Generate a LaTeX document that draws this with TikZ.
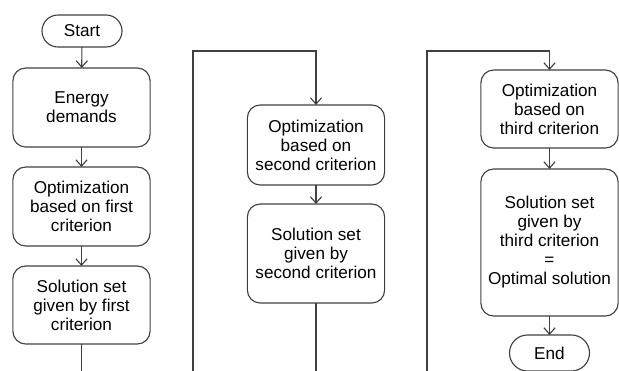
\documentclass[tikz,border=0pt]{standalone}
\usepackage{fontspec}
\setmainfont{Liberation Sans}
\usetikzlibrary{arrows.meta}
\begin{document}
\begin{tikzpicture}[x=0.025cm,y=-0.025cm,inner sep=0pt,outer sep=0pt,line width=0.8pt,color=black!75,
>={Straight Barb[length=1.6mm,width=2.8mm]},
procblock/.style={draw,rectangle,rounded corners=0.32cm,minimum width=3.43cm,align=center,text=black,font=\fontsize{12.2pt}{13.5pt}\selectfont},
termblock/.style={draw,rectangle,rounded corners=0.4cm,minimum width=2cm,minimum height=0.8cm,text=black,font=\fontsize{12.2pt}{13.5pt}\selectfont}]
\clip (0,0) rectangle (619,370);
\draw (82,31) node[termblock] (start) {Start};
\draw (81.5,107.5) node[procblock,minimum height=1.975cm] (energy) {Energy\\demands};
\draw (81.5,206.5) node[procblock,minimum height=1.975cm] (opt1) {Optimization\\based on first\\criterion};
\draw (81.5,305) node[procblock,minimum height=1.95cm] (sol1) {Solution set\\given by first\\criterion};
\draw (316,145) node[procblock,minimum height=2cm] (opt2) {Optimization\\based on\\second criterion};
\draw (316,253.5) node[procblock,minimum height=2.475cm] (sol2) {Solution set\\given by\\second criterion};
\draw (549.5,109) node[procblock,minimum height=1.95cm] (opt3) {Optimization\\based on\\third criterion};
\draw (549.5,242.5) node[procblock,minimum height=3.675cm] (sol3) {Solution set\\given by\\third criterion\\=\\Optimal solution};
\draw (549.5,353) node[termblock,rounded corners=0.45cm,minimum height=0.9cm] (end) {End};
\coordinate (out1) at (81.5,375);
\coordinate (in2) at (193,375);
\coordinate (top2) at (193,51);
\coordinate (out2) at (316,375);
\coordinate (in3) at (427,375);
\coordinate (top3) at (427,51);
\draw[->] (start) -- (energy);
\draw[->] (energy) -- (opt1);
\draw[->] (opt1) -- (sol1);
\draw (sol1) -- (out1);
\draw[->] (in2) -- (top2) -| (opt2.north);
\draw[->] (opt2) -- (sol2);
\draw (sol2) -- (out2);
\draw[->] (in3) -- (top3) -| (opt3.north);
\draw[->] (opt3) -- (sol3);
\draw[->] (sol3) -- (end);
\end{tikzpicture}
\end{document}
